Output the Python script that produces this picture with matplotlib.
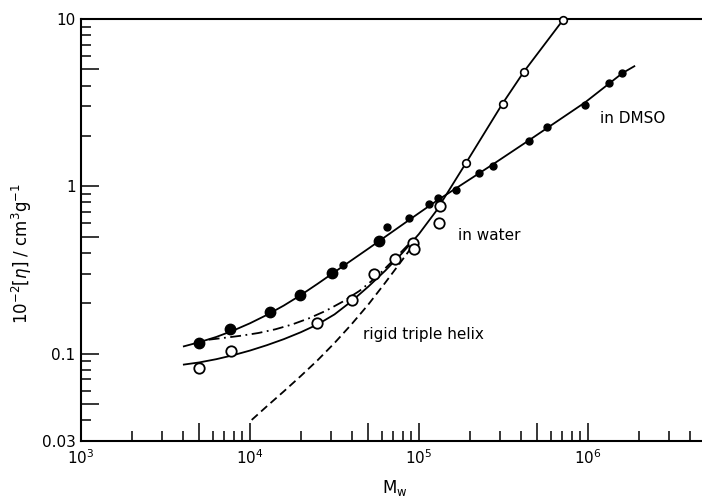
import numpy as np
import matplotlib
matplotlib.use("Agg")
import matplotlib.pyplot as plt
from matplotlib.ticker import FixedLocator, FuncFormatter, NullFormatter

# intrinsic viscosity vs molecular weight

# measured points in DMSO (filled), larger symbols for the low-M samples
m_dmso_big = [5000, 7600, 13200, 19800, 30400, 58200]
eta_dmso_big = [0.116, 0.141, 0.176, 0.223, 0.302, 0.472]
m_dmso_small = [35600, 64400, 87000, 114600, 129000, 165000, 225000, 273000,
                450000, 569000, 960000, 1336000, 1600000]
eta_dmso_small = [0.336, 0.572, 0.645, 0.78, 0.847, 0.95, 1.195, 1.32,
                  1.86, 2.26, 3.08, 4.14, 4.75]

# measured points in water (open)
m_water_big = [5000, 7700, 24800, 40000, 54200, 72500, 91800, 94000, 132000, 134000]
eta_water_big = [0.082, 0.104, 0.152, 0.208, 0.297, 0.367, 0.458, 0.42, 0.6, 0.76]
m_water_small = [189000, 312000, 418000, 708000]
eta_water_small = [1.37, 3.12, 4.85, 9.8]

# drawn curves
m_dmso_fit = [4060, 5012, 6310, 7943, 10000, 12589, 15849, 19953, 25119, 31623,
              39811, 50119, 63096, 79433, 100000, 125893, 273000, 450000, 960000,
              1600000, 1880000]
eta_dmso_fit = [0.1104, 0.1169, 0.1256, 0.1371, 0.1517, 0.1702, 0.1936, 0.2234,
                0.2612, 0.3069, 0.3606, 0.4236, 0.4989, 0.5875, 0.6918, 0.8128,
                1.35, 1.89, 3.17, 4.75, 5.22]

m_water_fit = [4060, 5012, 6310, 7943, 10000, 12589, 15849, 19953, 25119, 31623,
               39811, 50119, 63096, 79433, 100000, 125893, 189000, 312000, 418000,
               708000]
eta_water_fit = [0.0859, 0.0885, 0.0925, 0.0977, 0.1042, 0.1122, 0.1219, 0.1340,
                 0.1493, 0.1714, 0.2051, 0.2512, 0.3126, 0.3981, 0.5188, 0.7079,
                 1.37, 3.12, 4.85, 9.8]

m_dashdot = [5700, 7079, 8913, 11220, 14125, 17783, 22387, 28184, 35481, 44668,
             56234, 70795, 89125]
eta_dashdot = [0.121, 0.1242, 0.1279, 0.1327, 0.1396, 0.1493, 0.1626, 0.1803,
               0.2046, 0.2377, 0.2877, 0.3631, 0.4624]

m_helix = [10233, 12589, 15849, 19953, 25119, 31623, 39811, 50119, 63096, 79433, 91201]
eta_helix = [0.0401, 0.0484, 0.0594, 0.0733, 0.0912, 0.1156, 0.1493, 0.1963,
             0.2649, 0.3614, 0.4365]

x_labels = {3: "$10^{3}$", 4: "$10^{4}$", 5: "$10^{5}$", 6: "$10^{6}$"}
y_labels = {0.03: "0.03", 0.1: "0.1", 1.0: "1", 10.0: "10"}

plt.rcParams["font.family"] = "DejaVu Sans"

fig = plt.figure(figsize=(7.02, 4.98), dpi=100)
ax = fig.add_axes([81 / 702, 1 - 441 / 498, 621 / 702, 422 / 498])
ax.set_xscale("log")
ax.set_yscale("log")
xmax = 10 ** (3 + 621 / 169)
ax.set_xlim(1e3, xmax)
ax.set_ylim(0.03, 10)

# curves
lw = 1.3
ax.plot(m_dmso_fit, eta_dmso_fit, color="k", lw=lw, solid_joinstyle="round", zorder=2)
ax.plot(m_water_fit, eta_water_fit, color="k", lw=lw, solid_joinstyle="round", zorder=2)
ax.plot(m_dashdot, eta_dashdot, color="k", lw=lw, linestyle=(0, (6, 2.5, 1, 2.5)), zorder=2)
ax.plot(m_helix, eta_helix, color="k", lw=lw, linestyle=(0, (4.5, 2.5)), zorder=2)

# symbols
ax.plot(m_dmso_big, eta_dmso_big, "o", color="k", ms=7.5, zorder=3, clip_on=False)
ax.plot(m_dmso_small, eta_dmso_small, "o", color="k", ms=5, zorder=3, clip_on=False)
ax.plot(m_water_big, eta_water_big, "o", mfc="white", mec="k", mew=1.3, ms=7.5,
        zorder=4, clip_on=False)
ax.plot(m_water_small, eta_water_small, "o", mfc="white", mec="k", mew=1.2, ms=5.5,
        zorder=4, clip_on=False)

# annotations
ax.text(1.85e6, 2.54, "in DMSO", fontsize=11, ha="center", va="center")
ax.text(262000, 0.51, "in water", fontsize=11, ha="center", va="center")
ax.text(106000, 0.13, "rigid triple helix", fontsize=11, ha="center", va="center")

# ticks: inward, 2..9 minors, 5 drawn long
x_major, x_minor = [], []
for e in range(3, 7):
    for k in range(1, 10):
        v = k * 10 ** e
        if v > xmax:
            continue
        (x_major if k in (1, 5) else x_minor).append(v)
y_major, y_minor = [0.03], []
for e in range(-2, 2):
    for k in range(1, 10):
        v = k * 10.0 ** e
        if v < 0.035 or v > 10.5:
            continue
        (y_major if k in (1, 5) else y_minor).append(v)

ax.xaxis.set_major_locator(FixedLocator(x_major))
ax.xaxis.set_minor_locator(FixedLocator(x_minor))
ax.yaxis.set_major_locator(FixedLocator(y_major))
ax.yaxis.set_minor_locator(FixedLocator(y_minor))


def fmt_x(v, pos):
    e = np.log10(v)
    if abs(e - round(e)) < 1e-6:
        return x_labels.get(int(round(e)), "")
    return ""


def fmt_y(v, pos):
    for key, lab in y_labels.items():
        if abs(v - key) < 1e-9:
            return lab
    return ""


ax.xaxis.set_major_formatter(FuncFormatter(fmt_x))
ax.yaxis.set_major_formatter(FuncFormatter(fmt_y))
ax.xaxis.set_minor_formatter(NullFormatter())
ax.yaxis.set_minor_formatter(NullFormatter())

ax.tick_params(which="both", direction="in", top=False, right=False, width=1.1,
               labelsize=11, colors="k")
ax.tick_params(which="major", length=13)
ax.tick_params(which="minor", length=7.5)
ax.tick_params(axis="y", which="major", pad=4)
ax.tick_params(axis="x", which="major", pad=5)

for side in ("left", "bottom", "top"):
    ax.spines[side].set_linewidth(1.5)
ax.spines["right"].set_visible(False)

ax.set_xlabel("M$_\\mathrm{w}$", fontsize=12)
ax.set_ylabel("$10^{-2}[\\eta]$ / cm$^{3}$g$^{-1}$", fontsize=12)
ax.xaxis.set_label_coords(0.5056, -0.087)
ax.yaxis.set_label_coords(-0.076, 0.445)

fig.savefig("out.png", dpi=100, facecolor="white")
